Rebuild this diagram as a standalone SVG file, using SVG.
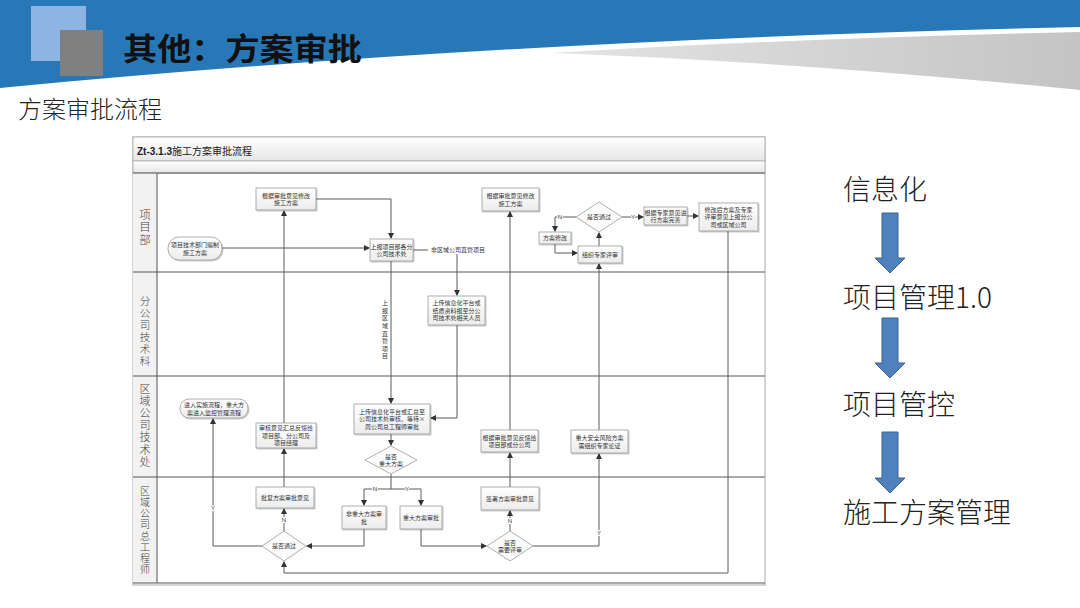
<svg xmlns="http://www.w3.org/2000/svg" width="1080" height="608" viewBox="0 0 1080 608">
<defs>
<style>
.cjk{font-family:"Noto Sans CJK SC","Noto Sans",sans-serif;}
.bt{font-family:"Noto Sans CJK SC","Noto Sans",sans-serif;font-size:6px;fill:#333;text-anchor:middle;}
.lab{font-family:"Liberation Sans","Noto Sans CJK SC",sans-serif;font-size:6px;fill:#333;text-anchor:middle;paint-order:stroke;stroke:#fff;stroke-width:2px;}
.box{fill:url(#bg);stroke:#9a9a9a;stroke-width:0.8;filter:url(#sh);}
.dia{fill:#fbfbfb;stroke:#9a9a9a;stroke-width:0.8;}
.con{fill:none;stroke:#5a5a5a;stroke-width:1;}
.lane{font-family:"Noto Sans CJK SC",serif;fill:#444;font-weight:300;writing-mode:vertical-rl;}
.sep{stroke:#555;stroke-width:1;}
.side{font-family:"Noto Sans CJK SC","Noto Sans",sans-serif;font-size:28px;fill:#222;font-weight:300;}
.barrow{fill:#4f81bd;stroke:#3a6396;stroke-width:1;}
</style>
<linearGradient id="bg" x1="0" y1="0" x2="0" y2="1"><stop offset="0" stop-color="#ffffff"/><stop offset="1" stop-color="#ececec"/></linearGradient>
<linearGradient id="hd" x1="0" y1="0" x2="0" y2="1"><stop offset="0" stop-color="#ffffff"/><stop offset="1" stop-color="#e6e6e6"/></linearGradient>
<linearGradient id="gw" x1="0" y1="0" x2="1" y2="0"><stop offset="0" stop-color="#e4e4e4"/><stop offset="1" stop-color="#c4c4c4"/></linearGradient>
<filter id="sh" x="-10%" y="-10%" width="130%" height="140%"><feDropShadow dx="1" dy="1" stdDeviation="0.6" flood-color="#000" flood-opacity="0.25"/></filter>
<marker id="ar" markerWidth="6" markerHeight="6" refX="5" refY="3" orient="auto" markerUnits="userSpaceOnUse"><path d="M0,0 L6,3 L0,6 Z" fill="#333"/></marker>
</defs>

<!-- slide background -->
<rect width="1080" height="608" fill="#ffffff"/>
<path d="M0,0 H1080 V27 Q500,40 0,88 Z" fill="#2878b8"/>
<path d="M551,53 Q800,38 1080,32 V90 Q800,62 551,53 Z" fill="url(#gw)"/>
<rect x="31" y="6" width="55" height="55" fill="#8eb4e3"/>
<rect x="60" y="30" width="43" height="46" fill="#808080"/>
<text x="123" y="60" class="cjk" font-size="31" font-weight="bold" fill="#111" textLength="239" lengthAdjust="spacingAndGlyphs">其他：方案审批</text>
<text x="18" y="118" class="cjk" font-size="24" fill="#222" font-weight="300">方案审批流程</text>

<!-- right side -->
<g id="side">
<text x="843" y="200" class="side">信息化</text>
<path class="barrow" d="M882,213 H898 V258 H905 L890,273 L875,258 H882 Z"/>
<text x="843" y="308" class="side">项目管理1.0</text>
<path class="barrow" d="M882,318 H898 V363 H905 L890,378 L875,363 H882 Z"/>
<text x="843" y="415" class="side">项目管控</text>
<path class="barrow" d="M882,432 H898 V478 H905 L890,493 L875,478 H882 Z"/>
<text x="843" y="523" class="side">施工方案管理</text>
</g>

<!-- swimlane frame -->
<g id="frame">
<rect x="133" y="137" width="632" height="448" fill="#fff" stroke="#aaa" stroke-width="1"/>
<rect x="133" y="137" width="632" height="24" fill="url(#hd)" stroke="#aaa" stroke-width="0.8"/>
<rect x="133" y="161" width="632" height="12" fill="url(#hd)" stroke="#aaa" stroke-width="0.8"/>
<rect x="133" y="173" width="24" height="410" fill="#f2f2f2"/>
<text x="137" y="155" font-family="Liberation Sans,'Noto Sans CJK SC',sans-serif" font-size="10" font-weight="bold" fill="#222">Zt-3.1.3<tspan font-family="'Noto Sans CJK SC',sans-serif" font-weight="normal">施工方案审批流程</tspan></text>
<line class="sep" x1="133" y1="173" x2="765" y2="173"/>
<line class="sep" x1="133" y1="272" x2="765" y2="272"/>
<line class="sep" x1="133" y1="376" x2="765" y2="376"/>
<line class="sep" x1="133" y1="477" x2="765" y2="477"/>
<line class="sep" x1="133" y1="583" x2="765" y2="583"/>
<line class="sep" x1="157" y1="173" x2="157" y2="583"/>
<text class="lane" x="145" y="209" style="font-size:11.5px;letter-spacing:0.8px">项目部</text>
<text class="lane" x="145" y="296" style="font-size:10.5px;letter-spacing:1.5px">分公司技术科</text>
<text class="lane" x="145" y="383" style="font-size:11px;letter-spacing:1.2px">区域公司技术处</text>
<text class="lane" x="145" y="486" style="font-size:10px;letter-spacing:1.2px">区域公司总工程师</text>
</g>

<!-- connectors -->
<g id="connectors">
<path class="con" d="M222,248 H369" marker-end="url(#ar)"/>
<path class="con" d="M284,487 V449" marker-end="url(#ar)"/>
<path class="con" d="M284,423 V211" marker-end="url(#ar)"/>
<path class="con" d="M316,199 H391 V238" marker-end="url(#ar)"/>
<path class="con" d="M413,250 H428"/>
<path class="con" d="M457,254 V295" marker-end="url(#ar)"/>
<path class="con" d="M391,261 V403" marker-end="url(#ar)"/>
<path class="con" d="M457,325 V418 H431" marker-end="url(#ar)"/>
<path class="con" d="M391,434 V445" marker-end="url(#ar)"/>
<path class="con" d="M391,474 V489"/>
<path class="con" d="M364,489 H421"/>
<path class="con" d="M364,489 V505" marker-end="url(#ar)"/>
<path class="con" d="M421,489 V505" marker-end="url(#ar)"/>
<path class="con" d="M364,529 V546 H307" marker-end="url(#ar)"/>
<path class="con" d="M284,531 V509" marker-end="url(#ar)"/>
<path class="con" d="M262,546 H213 V419" marker-end="url(#ar)"/>
<path class="con" d="M421,529 V546 H486" marker-end="url(#ar)"/>
<path class="con" d="M510,531 V511" marker-end="url(#ar)"/>
<path class="con" d="M533,546 H599 V454" marker-end="url(#ar)"/>
<path class="con" d="M599,430 V264" marker-end="url(#ar)"/>
<path class="con" d="M599,246 V233" marker-end="url(#ar)"/>
<path class="con" d="M576,217 H555 V231" marker-end="url(#ar)"/>
<path class="con" d="M555,244 V253 H577" marker-end="url(#ar)"/>
<path class="con" d="M622,217 H643" marker-end="url(#ar)"/>
<path class="con" d="M687,216 H698" marker-end="url(#ar)"/>
<path class="con" d="M728,231 V573 H284 V562" marker-end="url(#ar)"/>
<path class="con" d="M510,430 V212" marker-end="url(#ar)"/>
<path class="con" d="M510,487 V453" marker-end="url(#ar)"/>
<text class="lab" x="375" y="491">N</text>
<text class="lab" x="407" y="491">Y</text>
<text class="lab" x="284" y="522">N</text>
<text class="lab" x="213" y="510">Y</text>
<text class="lab" x="510" y="523">N</text>
<text class="lab" x="599" y="535">Y</text>
<text class="lab" x="560" y="219">N</text>
<text class="lab" x="633" y="219">Y</text>
<text class="bt" x="458" y="252" style="paint-order:stroke;stroke:#fff;stroke-width:2px;">非区域公司直管项目</text>
<text x="385" y="300" style="font-family:'Noto Sans CJK SC',sans-serif;font-size:6px;fill:#333;writing-mode:vertical-rl;letter-spacing:1.6px;paint-order:stroke;stroke:#fff;stroke-width:2px;">上报区域直管项目</text>
</g>

<!-- nodes: 项目部 -->
<g id="n-start"><rect class="box" x="168" y="237" width="54" height="23" rx="11"/><text class="bt"><tspan x="195" y="247">项目技术部门编制</tspan><tspan x="195" y="254.5">施工方案</tspan></text></g>
<g id="n-modify1"><rect class="box" x="256" y="188" width="60" height="22"/><text class="bt"><tspan x="286" y="197.5">根据审批意见修改</tspan><tspan x="286" y="205">施工方案</tspan></text></g>
<g id="n-report"><rect class="box" x="370" y="239" width="43" height="22"/><text class="bt"><tspan x="391.5" y="248.5">上报项目部各分</tspan><tspan x="391.5" y="256">公司技术处</tspan></text></g>
<g id="n-modify2"><rect class="box" x="482" y="188" width="57" height="23"/><text class="bt"><tspan x="510.5" y="198">根据审批意见修改</tspan><tspan x="510.5" y="205.5">施工方案</tspan></text></g>
<g id="n-pass1"><path class="dia" d="M599,202 L622,217 L599,232 L576,217 Z"/><text class="bt" x="599" y="219">是否通过</text></g>
<g id="n-fix"><rect class="box" x="539" y="232" width="32" height="12"/><text class="bt" x="555" y="240">方案修改</text></g>
<g id="n-expert"><rect class="box" x="578" y="246" width="44" height="17"/><text class="bt" x="600" y="256.5">组织专家评审</text></g>
<g id="n-improve"><rect class="box" x="644" y="207" width="43" height="18"/><text class="bt"><tspan x="665.5" y="214.5">根据专家意见进</tspan><tspan x="665.5" y="222">行方案完善</tspan></text></g>
<g id="n-submit"><rect class="box" x="699" y="203" width="59" height="28"/><text class="bt"><tspan x="728.5" y="211.7">修改后方案及专家</tspan><tspan x="728.5" y="219.2">评审意见上报分公</tspan><tspan x="728.5" y="226.7">司或区域公司</tspan></text></g>

<!-- 分公司技术科 -->
<g id="n-upload1"><rect class="box" x="428" y="296" width="57" height="29"/><text class="bt"><tspan x="456.5" y="305.2">上传信息化平台或</tspan><tspan x="456.5" y="312.7">纸质资料报至分公</tspan><tspan x="456.5" y="320.2">司技术处相关人员</tspan></text></g>

<!-- 区域公司技术处 -->
<g id="n-implement"><rect class="box" x="180" y="399" width="68" height="19" rx="9"/><text class="bt"><tspan x="214" y="407">进入实施流程，重大方</tspan><tspan x="214" y="414.5">案进入监控管理流程</tspan></text></g>
<g id="n-feedback"><rect class="box" x="256" y="423" width="60" height="25"/><text class="bt"><tspan x="286" y="430.2">审核意见汇总反馈给</tspan><tspan x="286" y="437.7">项目部、分公司及</tspan><tspan x="286" y="445.2">项目经理</tspan></text></g>
<g id="n-upload2"><rect class="box" x="354" y="404" width="76" height="30"/><text class="bt"><tspan x="392" y="413.7">上传信息化平台或汇总至</tspan><tspan x="392" y="421.2">公司技术处审核，等待×</tspan><tspan x="392" y="428.7">周公司总工程师审批</tspan></text></g>
<g id="n-major"><path class="dia" d="M391,446 L417,460 L391,474 L365,460 Z"/><text class="bt"><tspan x="391" y="458.5">是否</tspan><tspan x="391" y="466">重大方案</tspan></text></g>
<g id="n-feedback2"><rect class="box" x="481" y="430" width="57" height="22"/><text class="bt"><tspan x="509.5" y="439.5">根据审批意见反馈给</tspan><tspan x="509.5" y="447">项目部或分公司</tspan></text></g>
<g id="n-risk"><rect class="box" x="571" y="430" width="57" height="23"/><text class="bt"><tspan x="599.5" y="440">重大安全风险方案</tspan><tspan x="599.5" y="447.5">需组织专家论证</tspan></text></g>

<!-- 区域公司总工程师 -->
<g id="n-reply"><rect class="box" x="256" y="487" width="58" height="21"/><text class="bt" x="285" y="499.7">批复方案审批意见</text></g>
<g id="n-minor"><rect class="box" x="342" y="506" width="44" height="23"/><text class="bt"><tspan x="364" y="516">非重大方案审</tspan><tspan x="364" y="523.5">批</tspan></text></g>
<g id="n-majorapprove"><rect class="box" x="400" y="506" width="42" height="23"/><text class="bt" x="421" y="519.7">重大方案审批</text></g>
<g id="n-pass2"><path class="dia" d="M284,531 L306,546 L284,561 L262,546 Z"/><text class="bt" x="284" y="548.2">是否通过</text></g>
<g id="n-sign"><rect class="box" x="481" y="487" width="58" height="23"/><text class="bt" x="510" y="500.7">签署方案审批意见</text></g>
<g id="n-review"><path class="dia" d="M510,531 L533,546 L510,561 L487,546 Z"/><text class="bt"><tspan x="510" y="544.5">是否</tspan><tspan x="510" y="552">需要评审</tspan></text></g>
</svg>
